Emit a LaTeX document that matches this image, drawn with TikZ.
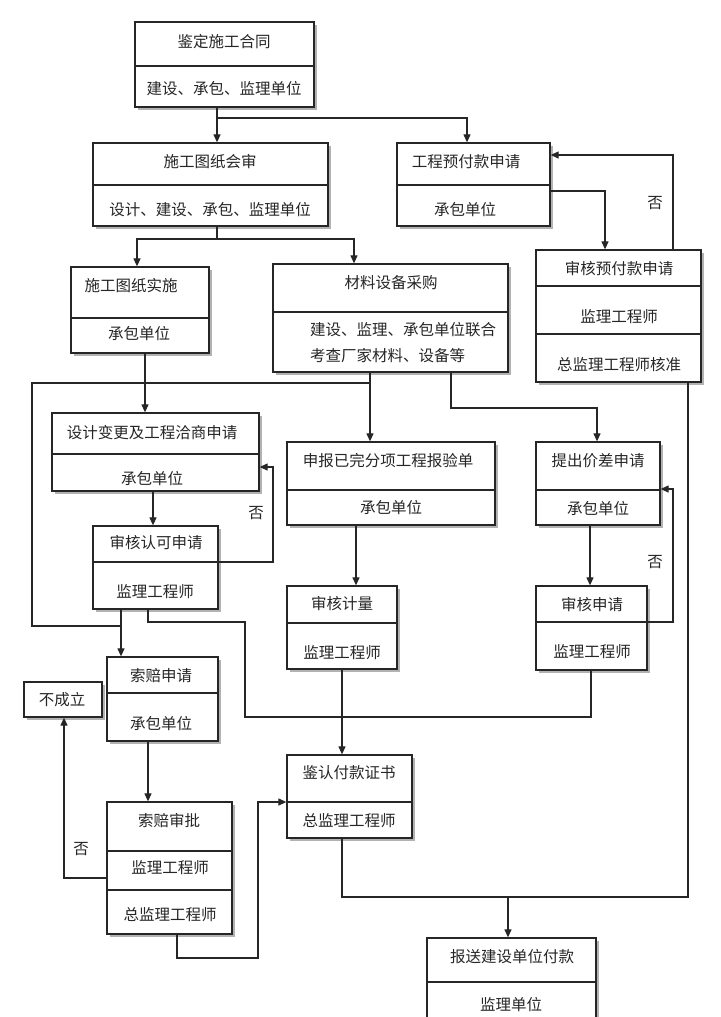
\documentclass[tikz,border=0pt]{standalone}
\usepackage{fontspec}
\setmainfont{Noto Sans CJK SC}
\usetikzlibrary{arrows.meta,shadows}
\newcommand\mkbox[5]{%
  \pgfmathsetmacro\cx{(#2+#4)/2}\pgfmathsetmacro\cy{(#3+#5)/2}%
  \pgfmathsetmacro\ww{#4-#2}\pgfmathsetmacro\hh{#5-#3}%
  \node[box,minimum width=\ww pt,minimum height=\hh pt] (#1) at (\cx,\cy) {};}
\begin{document}
\begin{tikzpicture}[x=1pt,y=-1pt,
  box/.style={draw=black!85, line width=1.3pt, fill=white, inner sep=0pt,
    drop shadow={shadow xshift=2.5pt, shadow yshift=-2.5pt, fill=black!50, opacity=0.6}},
  divl/.style={draw=black!85, line width=1.1pt},
  lab/.style={font=\fontsize{15.5}{18}\selectfont, text=black!85, inner sep=0pt},
  conn/.style={line width=1.2pt, draw=black!85},
  arr/.style={conn, -{Triangle[length=8pt,width=7pt]}},
]
\useasboundingbox (0,0) rectangle (720,1017);
\fill[white] (0,0) rectangle (720,1017);
\clip (0,0) rectangle (720,1017);

% x and y guide coordinates
\foreach \v in {32,64,121,137,145,148,153,177,217,245,258,273,342,354,356,370,451,467,508,590,591,597,605,673,688}
  {\coordinate (x\v) at (\v,0);}
\foreach \v in {118,155,191,239,383,408,467,489,562,622,626,717,802,878,897,958}
  {\coordinate (y\v) at (0,\v);}

% boxes
\mkbox{b1}{135}{22}{314}{107}
\mkbox{b2}{93}{143}{328}{226}
\mkbox{b3}{397}{143}{550}{226}
\mkbox{b4}{536}{250}{701}{382}
\mkbox{b5}{71}{267}{209}{353}
\mkbox{b6}{273}{264}{508}{372}
\mkbox{b7}{52}{413}{259}{491}
\mkbox{b8}{287}{442}{495}{525}
\mkbox{b9}{536}{442}{660}{525}
\mkbox{b10}{93}{526}{218}{609}
\mkbox{b11}{287}{586}{397}{669}
\mkbox{b13}{536}{586}{647}{670}
\mkbox{b12}{107}{657}{218}{741}
\mkbox{b15}{24}{682}{102}{717}
\mkbox{b16}{107}{802}{232}{934}
\mkbox{b14}{287}{755}{412}{838}
\mkbox{b17}{427}{938}{596}{1040}

% dividers
\draw[divl] (135,66) -- (314,66);
\draw[divl] (93,185) -- (328,185);
\draw[divl] (397,185) -- (550,185);
\draw[divl] (536,286) -- (701,286);
\draw[divl] (536,334) -- (701,334);
\draw[divl] (71,318) -- (209,318);
\draw[divl] (273,312) -- (508,312);
\draw[divl] (52,454) -- (259,454);
\draw[divl] (287,490) -- (495,490);
\draw[divl] (536,490) -- (660,490);
\draw[divl] (93,562) -- (218,562);
\draw[divl] (287,623) -- (397,623);
\draw[divl] (536,622) -- (647,622);
\draw[divl] (107,693) -- (218,693);
\draw[divl] (107,851) -- (232,851);
\draw[divl] (107,890) -- (232,890);
\draw[divl] (287,802) -- (412,802);
\draw[divl] (427,982) -- (596,982);

% texts
\node[lab] (t1a) at (224,42) {鉴定施工合同};
\node[lab] (t1b) at (224,89) {建设、承包、监理单位};
\node[lab] (t2a) at (210,162) {施工图纸会审};
\node[lab] (t2b) at (210,210) {设计、建设、承包、监理单位};
\node[lab] (t3a) at (466,162) {工程预付款申请};
\node[lab] (t3b) at (465,210) {承包单位};
\node[lab] (t4a) at (619,269) {审核预付款申请};
\node[lab] (t4b) at (619,317) {监理工程师};
\node[lab] (t4c) at (619,365) {总监理工程师核准};
\node[lab] (t5a) at (131,286) {施工图纸实施};
\node[lab] (t5b) at (139,334) {承包单位};
\node[lab] (t6a) at (391,283) {材料设备采购};
\node[lab,anchor=west] (t6b) at (310,330) {建设、监理、承包单位联合};
\node[lab,anchor=west] (t6c) at (310,356) {考查厂家材料、设备等};
\node[lab] (t7a) at (152,433) {设计变更及工程洽商申请};
\node[lab] (t7b) at (152,479) {承包单位};
\node[lab] (t8a) at (388,461) {申报已完分项工程报验单};
\node[lab] (t8b) at (391,508) {承包单位};
\node[lab] (t9a) at (598,461) {提出价差申请};
\node[lab] (t9b) at (598,509) {承包单位};
\node[lab] (t10a) at (156,543) {审核认可申请};
\node[lab] (t10b) at (155,592) {监理工程师};
\node[lab] (t11a) at (342,604) {审核计量};
\node[lab] (t11b) at (342,653) {监理工程师};
\node[lab] (t13a) at (592,605) {审核申请};
\node[lab] (t13b) at (592,652) {监理工程师};
\node[lab] (t12a) at (161,676) {索赔申请};
\node[lab] (t12b) at (161,724) {承包单位};
\node[lab] (t15) at (62,700) {不成立};
\node[lab] (t16a) at (169,821) {索赔审批};
\node[lab] (t16b) at (170,868) {监理工程师};
\node[lab] (t16c) at (170,915) {总监理工程师};
\node[lab] (t14a) at (349,773) {鉴认付款证书};
\node[lab] (t14b) at (349,821) {总监理工程师};
\node[lab] (t17a) at (512,957) {报送建设单位付款};
\node[lab] (t17b) at (511,1005) {监理单位};

% "no" labels
\node[lab] (n1) at (655,203) {否};
\node[lab] (n2) at (256,513) {否};
\node[lab] (n3) at (655,562) {否};
\node[lab] (n4) at (81,849) {否};

% connectors
\draw[arr] (x217 |- b1.south) -- (x217 |- b2.north);
\draw[arr] (x217 |- y118) -| (x467 |- b3.north);
\draw[conn] (x217 |- b2.south) -- (x217 |- y239);
\draw[arr] (x217 |- y239) -| (x137 |- b5.north);
\draw[arr] (x217 |- y239) -| (x354 |- b6.north);
\draw[arr] (b3.east |- y191) -| (x605 |- b4.north);
\draw[arr] (x673 |- b4.north) |- (b3.east |- y155);
\draw[arr] (x145 |- b5.south) -- (x145 |- b7.north);
\draw[arr] (x370 |- b6.south) -- (x370 |- b8.north);
\draw[conn] (x370 |- y383) -| (x32 |- y626) -- (x121 |- y626);
\draw[arr] (x451 |- b6.south) |- (x597 |- y408) -- (x597 |- b9.north);
\draw[arr] (x153 |- b7.south) -- (x153 |- b10.north);
\draw[arr] (b10.east |- y562) -| (x273 |- y467) -- (b7.east |- y467);
\draw[arr] (x121 |- b10.south) -- (x121 |- b12.north);
\draw[conn] (x148 |- b10.south) |- (x245 |- y622) |- (x591 |- y717) -- (x591 |- b13.south);
\draw[arr] (x356 |- b8.south) -- (x356 |- b11.north);
\draw[arr] (x342 |- b11.south) -- (x342 |- b14.north);
\draw[arr] (x590 |- b9.south) -- (x590 |- b13.north);
\draw[arr] (b13.east |- y622) -| (x673 |- y489) -- (b9.east |- y489);
\draw[arr] (x148 |- b12.south) -- (x148 |- b16.north);
\draw[arr] (b16.west |- y878) -| (x64 |- b15.south);
\draw[arr] (x177 |- b16.south) |- (x258 |- y958) |- (b14.west |- y802);
\draw[conn] (x342 |- b14.south) |- (x688 |- y897) -- (x688 |- b4.south);
\draw[arr] (x508 |- y897) -- (x508 |- b17.north);
\end{tikzpicture}
\end{document}
